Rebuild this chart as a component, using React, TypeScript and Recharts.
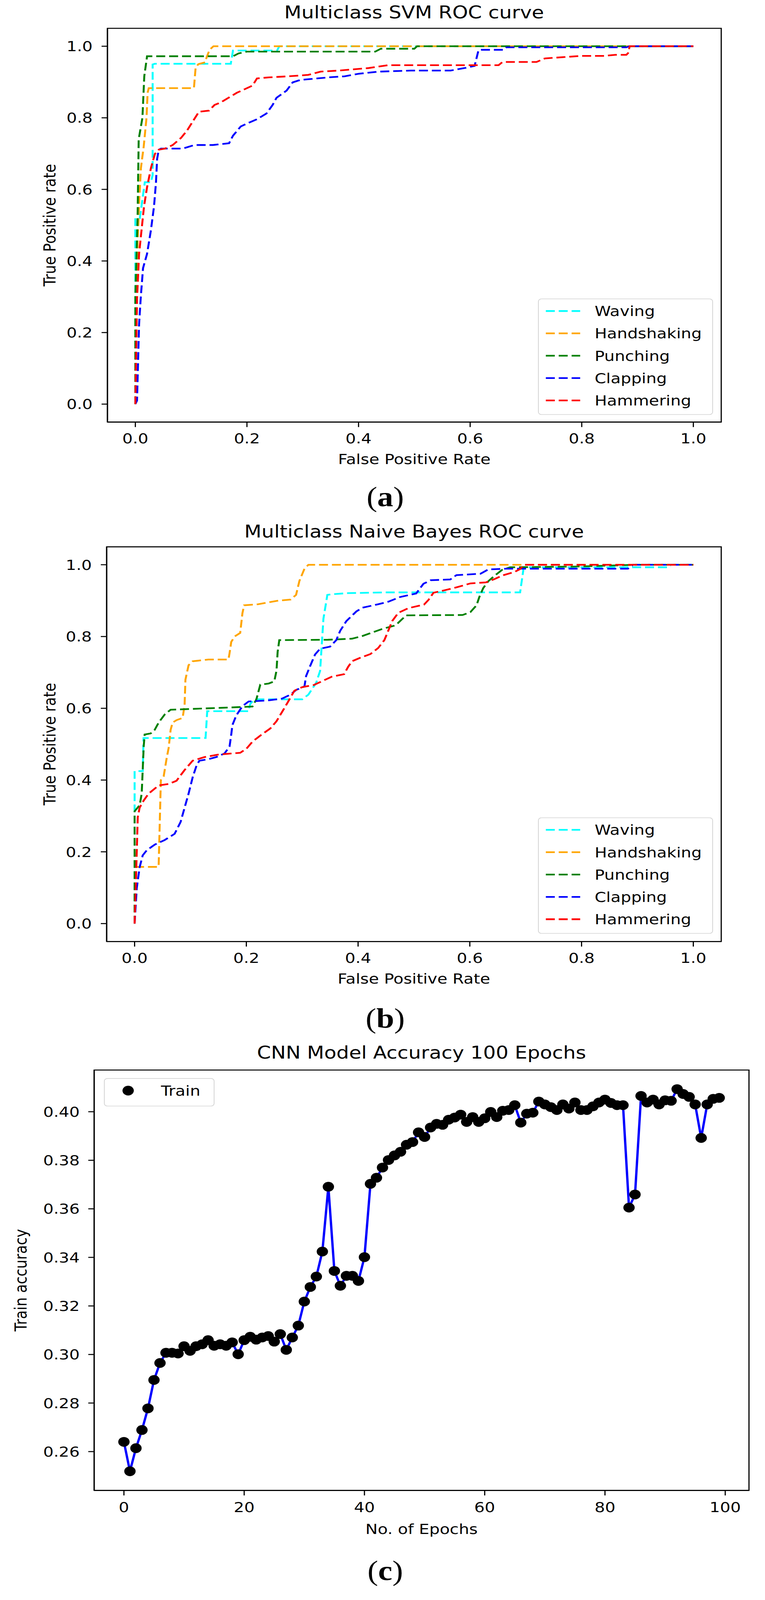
import React from "react"
import { LineChart, Line, XAxis, YAxis, Legend, Label, ReferenceArea } from "recharts"

const FONT = "DejaVu Sans"

// ROC points as [false positive rate, true positive rate]
const svmWaving: [number, number][] = [
  [0, 0], [0, 0.52], [0.008, 0.52], [0.017, 0.62], [0.028, 0.62], [0.031, 0.64],
  [0.031, 0.949], [0.035, 0.951], [0.171, 0.951], [0.175, 0.988], [0.254, 0.988],
  [0.258, 1], [1, 1],
]
const svmHandshaking: [number, number][] = [
  [0, 0], [0.004, 0.45], [0.007, 0.57], [0.01, 0.66], [0.015, 0.72], [0.02, 0.8],
  [0.022, 0.87], [0.024, 0.883], [0.105, 0.883], [0.108, 0.94], [0.113, 0.95],
  [0.125, 0.955], [0.128, 0.97], [0.133, 0.99], [0.14, 1], [1, 1],
]
const svmPunching: [number, number][] = [
  [0, 0], [0, 0.3], [0.004, 0.52], [0.006, 0.74], [0.0127, 0.8], [0.016, 0.916],
  [0.021, 0.972], [0.175, 0.972], [0.185, 0.98], [0.2, 0.985], [0.43, 0.985],
  [0.44, 0.993], [0.5, 0.993], [0.505, 1], [1, 1],
]
const svmClapping: [number, number][] = [
  [0, 0], [0.003, 0.01], [0.0067, 0.223], [0.0098, 0.3], [0.0138, 0.38], [0.021, 0.42],
  [0.028, 0.487], [0.0335, 0.553], [0.037, 0.62], [0.039, 0.685], [0.042, 0.711],
  [0.046, 0.714], [0.085, 0.714], [0.106, 0.724], [0.139, 0.724], [0.168, 0.729],
  [0.175, 0.75], [0.189, 0.776], [0.203, 0.786], [0.218, 0.796], [0.235, 0.812],
  [0.246, 0.836], [0.253, 0.856], [0.271, 0.876], [0.282, 0.899], [0.296, 0.906],
  [0.318, 0.909], [0.346, 0.913], [0.375, 0.916], [0.4, 0.923], [0.436, 0.929],
  [0.494, 0.932], [0.565, 0.932], [0.59, 0.939], [0.608, 0.945], [0.615, 0.989],
  [0.62, 0.99], [0.66, 0.99], [0.665, 0.997], [0.88, 0.997], [0.885, 1], [1, 1],
]
const svmHammering: [number, number][] = [
  [0, 0], [0.001, 0.1], [0.003, 0.294], [0.0067, 0.42], [0.01, 0.47], [0.0156, 0.553],
  [0.021, 0.606], [0.028, 0.66], [0.035, 0.699], [0.042, 0.711], [0.053, 0.714],
  [0.067, 0.724], [0.082, 0.744], [0.0925, 0.764], [0.103, 0.79], [0.114, 0.817],
  [0.132, 0.82], [0.142, 0.836], [0.153, 0.843], [0.167, 0.856], [0.182, 0.87],
  [0.196, 0.88], [0.21, 0.89], [0.218, 0.91], [0.239, 0.913], [0.275, 0.916],
  [0.31, 0.92], [0.332, 0.929], [0.364, 0.932], [0.418, 0.939], [0.453, 0.947],
  [0.651, 0.947], [0.658, 0.956], [0.719, 0.956], [0.734, 0.966], [0.8, 0.973],
  [0.84, 0.973], [0.86, 0.976], [0.88, 0.976], [0.883, 0.981], [0.886, 1], [1, 1],
]

const nbWaving: [number, number][] = [
  [0, 0], [0, 0.425], [0.0146, 0.425], [0.016, 0.517], [0.127, 0.517], [0.13, 0.592],
  [0.204, 0.592], [0.207, 0.612], [0.214, 0.625], [0.3, 0.625], [0.311, 0.638],
  [0.325, 0.671], [0.332, 0.704], [0.338, 0.85], [0.345, 0.916], [0.354, 0.918],
  [0.382, 0.921], [0.45, 0.923], [0.69, 0.923], [0.696, 0.988], [0.704, 0.993],
  [0.955, 0.993], [0.96, 1], [1, 1],
]
const nbHandshaking: [number, number][] = [
  [0, 0], [0.003, 0.158], [0.043, 0.158], [0.047, 0.4], [0.052, 0.41], [0.0573, 0.46],
  [0.061, 0.49], [0.0645, 0.54], [0.068, 0.56], [0.075, 0.567], [0.086, 0.573],
  [0.0895, 0.61], [0.091, 0.68], [0.0966, 0.72], [0.104, 0.731], [0.132, 0.736],
  [0.168, 0.736], [0.17, 0.754], [0.173, 0.785], [0.179, 0.8], [0.189, 0.81],
  [0.193, 0.865], [0.196, 0.887], [0.221, 0.89], [0.257, 0.9], [0.279, 0.903],
  [0.289, 0.916], [0.295, 0.955], [0.304, 0.989], [0.311, 1], [1, 1],
]
const nbPunching: [number, number][] = [
  [0, 0], [0, 0.313], [0.0091, 0.33], [0.0127, 0.362], [0.0145, 0.428], [0.0163, 0.494],
  [0.018, 0.527], [0.0288, 0.53], [0.036, 0.54], [0.043, 0.56], [0.054, 0.583],
  [0.0645, 0.596], [0.132, 0.6], [0.168, 0.602], [0.211, 0.605], [0.218, 0.625],
  [0.225, 0.666], [0.24, 0.669], [0.25, 0.675], [0.254, 0.705], [0.256, 0.757],
  [0.259, 0.79], [0.346, 0.791], [0.389, 0.794], [0.407, 0.801], [0.425, 0.811],
  [0.443, 0.821], [0.464, 0.83], [0.471, 0.837], [0.486, 0.859], [0.587, 0.86],
  [0.601, 0.868], [0.612, 0.887], [0.617, 0.91], [0.624, 0.935], [0.633, 0.954],
  [0.644, 0.969], [0.658, 0.986], [0.672, 0.993], [0.79, 0.995], [0.9, 1], [1, 1],
]
const nbClapping: [number, number][] = [
  [0, 0], [0.0038, 0.098], [0.009, 0.157], [0.0145, 0.19], [0.0216, 0.204], [0.036, 0.22],
  [0.054, 0.233], [0.0716, 0.25], [0.0823, 0.283], [0.0895, 0.323], [0.0966, 0.362],
  [0.104, 0.408], [0.111, 0.441], [0.116, 0.454], [0.132, 0.458], [0.146, 0.464],
  [0.161, 0.474], [0.17, 0.494], [0.173, 0.527], [0.175, 0.553], [0.182, 0.58],
  [0.193, 0.606], [0.204, 0.619], [0.239, 0.622], [0.264, 0.627], [0.279, 0.638],
  [0.289, 0.651], [0.304, 0.661], [0.307, 0.69], [0.314, 0.717], [0.323, 0.75],
  [0.332, 0.766], [0.35, 0.772], [0.361, 0.79], [0.368, 0.816], [0.379, 0.843],
  [0.397, 0.87], [0.407, 0.88], [0.436, 0.89], [0.454, 0.897], [0.475, 0.91],
  [0.504, 0.92], [0.517, 0.947], [0.53, 0.957], [0.565, 0.959], [0.576, 0.971],
  [0.619, 0.975], [0.633, 0.987], [0.665, 0.989], [0.883, 0.989], [0.892, 1], [1, 1],
]
const nbHammering: [number, number][] = [
  [0, 0], [0.0038, 0.197], [0.0056, 0.296], [0.009, 0.323], [0.0163, 0.343], [0.025, 0.362],
  [0.043, 0.385], [0.061, 0.389], [0.075, 0.398], [0.0895, 0.428], [0.104, 0.454],
  [0.125, 0.464], [0.15, 0.471], [0.189, 0.476], [0.2, 0.487], [0.211, 0.507],
  [0.225, 0.524], [0.243, 0.544], [0.254, 0.564], [0.264, 0.59], [0.275, 0.619],
  [0.286, 0.649], [0.3, 0.659], [0.321, 0.665], [0.339, 0.678], [0.353, 0.688],
  [0.375, 0.695], [0.382, 0.715], [0.389, 0.731], [0.404, 0.741], [0.422, 0.751],
  [0.436, 0.768], [0.447, 0.79], [0.454, 0.816], [0.461, 0.843], [0.472, 0.866],
  [0.49, 0.879], [0.518, 0.889], [0.526, 0.902], [0.535, 0.922], [0.555, 0.929],
  [0.576, 0.937], [0.601, 0.948], [0.629, 0.951], [0.644, 0.96], [0.658, 0.97],
  [0.68, 0.98], [0.69, 0.988], [0.697, 1], [1, 1],
]

const ACTIONS = ["Waving", "Handshaking", "Punching", "Clapping", "Hammering"]
const ACTION_COLORS = ["#00ffff", "#ffa500", "#008000", "#0000ff", "#ff0000"]
const rocTicks = [0, 0.2, 0.4, 0.6, 0.8, 1.0]

// CNN train accuracy per epoch (0..99)
const trainAcc = [
  0.264, 0.2519, 0.2614, 0.2689, 0.2778, 0.2895, 0.2965, 0.3007, 0.3007, 0.3004,
  0.3034, 0.3015, 0.3034, 0.3042, 0.3059, 0.3036, 0.3042, 0.3036, 0.305, 0.3001,
  0.3059, 0.3073, 0.3061, 0.307, 0.3076, 0.3053, 0.3084, 0.3019, 0.307, 0.3119,
  0.3218, 0.3278, 0.3321, 0.3424, 0.3691, 0.3344, 0.3283, 0.3324, 0.3324, 0.3303,
  0.3401, 0.3703, 0.3728, 0.377, 0.3801, 0.382, 0.3835, 0.3864, 0.3875, 0.3915,
  0.3896, 0.3935, 0.395, 0.3946, 0.3967, 0.3976, 0.3988, 0.3958, 0.3978, 0.3958,
  0.3973, 0.3999, 0.3978, 0.4004, 0.4007, 0.4027, 0.3955, 0.3992, 0.3996, 0.4042,
  0.403, 0.4019, 0.4007, 0.403, 0.4013, 0.4038, 0.4007, 0.4007, 0.4022, 0.4038,
  0.405, 0.4036, 0.4027, 0.4027, 0.3605, 0.3659, 0.4065, 0.4038, 0.405, 0.403,
  0.4047, 0.4045, 0.4093, 0.4073, 0.4061, 0.403, 0.3892, 0.403, 0.4053, 0.4057,
]
const epochTicks = [0, 20, 40, 60, 80, 100]
const accTicks = [0.26, 0.28, 0.3, 0.32, 0.34, 0.36, 0.38, 0.4]

const W = 1958
const PAGE_H = 4743
// the photo comes back only 4096px tall, so the whole figure is squeezed
// vertically to keep the bottom panel (and its texts) inside it
const FIT_Y = 4096 / PAGE_H

const spine = { stroke: "#000", strokeWidth: 3 }
const tickText = { fontSize: 42, fill: "#000", fontFamily: FONT }

function RocLegend() {
  return (
    <svg width={448} height={345} style={{ display: "block" }}>
      <rect x={1} y={1} width={446} height={343} rx={8} fill="rgba(255,255,255,0.8)" stroke="#d4d4d4" strokeWidth={2} />
      {ACTIONS.map((name, i) => {
        const y = 37 + i * 66.25
        return (
          <g key={name}>
            <line x1={20} x2={108} y1={y} y2={y} stroke={ACTION_COLORS[i]} strokeWidth={5} strokeDasharray="23 10" />
            <text x={145} y={y + 15} fontSize={42} fontFamily={FONT} fill="#000">{name}</text>
          </g>
        )
      })}
    </svg>
  )
}

function TrainLegend() {
  return (
    <svg width={283} height={84} style={{ display: "block" }}>
      <rect x={1} y={1} width={281} height={82} rx={8} fill="rgba(255,255,255,0.8)" stroke="#d4d4d4" strokeWidth={2} />
      <circle cx={62} cy={37} r={14.5} fill="#000" />
      <text x={146} y={52} fontSize={42} fontFamily={FONT} fill="#000">Train</text>
    </svg>
  )
}

interface RocProps {
  curves: [number, number][][]
  plotTop: number
  plotLeft: number
  legendTop: number
}

function RocChart({ curves, plotTop, plotLeft, legendTop }: RocProps) {
  const height = 1540
  const plotRight = 1846
  const plotBottom = 1251
  const xAxisH = 100
  return (
    <LineChart
      width={W}
      height={height}
      margin={{ top: plotTop, right: W - plotRight, bottom: height - plotBottom - xAxisH, left: 0 }}
    >
      <XAxis
        type="number"
        dataKey="x"
        domain={[-0.05, 1.05]}
        allowDataOverflow
        ticks={rocTicks}
        tickFormatter={(v: number) => v.toFixed(1)}
        height={xAxisH}
        tickSize={15}
        tickMargin={18}
        tick={tickText}
        axisLine={spine}
        tickLine={spine}
      >
        <Label
          content={() => (
            <text x={(plotLeft + plotRight) / 2} y={plotBottom + 125} textAnchor="middle" fontSize={42} fontFamily={FONT} fill="#000">
              False Positive Rate
            </text>
          )}
        />
      </XAxis>
      <YAxis
        type="number"
        domain={[-0.05, 1.05]}
        allowDataOverflow
        ticks={rocTicks}
        tickFormatter={(v: number) => v.toFixed(1)}
        width={plotLeft}
        tickSize={15}
        tickMargin={23}
        tick={tickText}
        axisLine={spine}
        tickLine={spine}
      >
        <Label
          content={() => {
            const cy = (plotTop + plotBottom) / 2
            return (
              <text x={142} y={cy} transform={`rotate(-90 142 ${cy})`} textAnchor="middle" fontSize={42} fontFamily={FONT} fill="#000">
                True Positive rate
              </text>
            )
          }}
        />
      </YAxis>
      {/* axes frame (matplotlib draws all four spines) */}
      <ReferenceArea x1={-0.05} x2={1.05} y1={-0.05} y2={1.05} fill="none" stroke="#000" strokeWidth={3} ifOverflow="visible" />
      {curves.map((pts, i) => (
        <Line
          key={ACTIONS[i]}
          name={ACTIONS[i]}
          data={pts.map(([x, y]) => ({ x, y }))}
          dataKey="y"
          type="linear"
          stroke={ACTION_COLORS[i]}
          strokeWidth={5}
          strokeDasharray="23 10"
          dot={false}
          activeDot={false}
          isAnimationActive={false}
        />
      ))}
      <Legend
        layout="vertical"
        verticalAlign="middle"
        align="center"
        wrapperStyle={{ left: 1377, top: legendTop, width: 448, height: 345 }}
        content={() => <RocLegend />}
      />
    </LineChart>
  )
}

function AccuracyChart() {
  const height = 1663
  const plotTop = 92
  const plotLeft = 241
  const plotRight = 1917
  const plotBottom = 1338
  const xAxisH = 100
  const data = trainAcc.map((acc, epoch) => ({ epoch, acc }))
  const lo = Math.min(...trainAcc)
  const hi = Math.max(...trainAcc)
  const pad = (hi - lo) * 0.05
  const xPad = 99 * 0.05
  return (
    <LineChart
      width={W}
      height={height}
      data={data}
      margin={{ top: plotTop, right: W - plotRight, bottom: height - plotBottom - xAxisH, left: 0 }}
    >
      <XAxis
        type="number"
        dataKey="epoch"
        domain={[-xPad, 99 + xPad]}
        allowDataOverflow
        ticks={epochTicks}
        height={xAxisH}
        tickSize={15}
        tickMargin={20}
        tick={tickText}
        axisLine={spine}
        tickLine={spine}
      >
        <Label
          content={() => (
            <text x={(plotLeft + plotRight) / 2} y={plotBottom + 129} textAnchor="middle" fontSize={42} fontFamily={FONT} fill="#000">
              No. of Epochs
            </text>
          )}
        />
      </XAxis>
      <YAxis
        type="number"
        domain={[lo - pad, hi + pad]}
        allowDataOverflow
        ticks={accTicks}
        tickFormatter={(v: number) => v.toFixed(2)}
        width={plotLeft}
        tickSize={15}
        tickMargin={22}
        tick={tickText}
        axisLine={spine}
        tickLine={spine}
      >
        <Label
          content={() => {
            const cy = (plotTop + plotBottom) / 2
            return (
              <text x={68} y={cy} transform={`rotate(-90 68 ${cy})`} textAnchor="middle" fontSize={42} fontFamily={FONT} fill="#000">
                Train accuracy
              </text>
            )
          }}
        />
      </YAxis>
      <ReferenceArea x1={-xPad} x2={99 + xPad} y1={lo - pad} y2={hi + pad} fill="none" stroke="#000" strokeWidth={3} ifOverflow="visible" />
      <Line
        dataKey="acc"
        name="Train"
        stroke="none"
        dot={{ r: 14.5, fill: "#000", stroke: "none" }}
        activeDot={false}
        isAnimationActive={false}
      />
      <Line
        dataKey="acc"
        stroke="#0000ff"
        strokeWidth={6}
        strokeLinejoin="round"
        dot={false}
        activeDot={false}
        isAnimationActive={false}
      />
      <Legend
        layout="vertical"
        verticalAlign="middle"
        align="center"
        wrapperStyle={{ left: 266, top: 116, width: 283, height: 84 }}
        content={() => <TrainLegend />}
      />
    </LineChart>
  )
}

function Caption({ x, y, letter }: { x: number; y: number; letter: string }) {
  return (
    <text x={x} y={y} textAnchor="middle" fontSize={82} fontFamily="Liberation Serif" fill="#000">
      (<tspan fontWeight="bold">{letter}</tspan>)
    </text>
  )
}

export default function App() {
  return (
    <div
      style={{
        position: "absolute",
        left: 0,
        top: 0,
        width: W,
        height: PAGE_H,
        background: "#fff",
        transform: `scaleY(${FIT_Y})`,
        transformOrigin: "0 0",
      }}
    >
      <div style={{ position: "absolute", left: 0, top: 0 }}>
        <RocChart
          curves={[svmWaving, svmHandshaking, svmPunching, svmClapping, svmHammering]}
          plotTop={84}
          plotLeft={275}
          legendTop={885}
        />
      </div>
      <div style={{ position: "absolute", left: 0, top: 1540 }}>
        <RocChart
          curves={[nbWaving, nbHandshaking, nbPunching, nbClapping, nbHammering]}
          plotTop={81}
          plotLeft={273}
          legendTop={883}
        />
      </div>
      <div style={{ position: "absolute", left: 0, top: 3080 }}>
        <AccuracyChart />
      </div>
      <svg width={W} height={PAGE_H} style={{ position: "absolute", left: 0, top: 0, pointerEvents: "none" }}>
        <text x={1060} y={55} textAnchor="middle" fontSize={51} fontFamily={FONT} fill="#000">Multiclass SVM ROC curve</text>
        <text x={1060} y={1593} textAnchor="middle" fontSize={51} fontFamily={FONT} fill="#000">Multiclass Naive Bayes ROC curve</text>
        <text x={1079} y={3138} textAnchor="middle" fontSize={51} fontFamily={FONT} fill="#000">CNN Model Accuracy 100 Epochs</text>
        <Caption x={986} y={1501} letter="a" />
        <Caption x={986} y={3047} letter="b" />
        <Caption x={986} y={4684} letter="c" />
      </svg>
    </div>
  )
}
